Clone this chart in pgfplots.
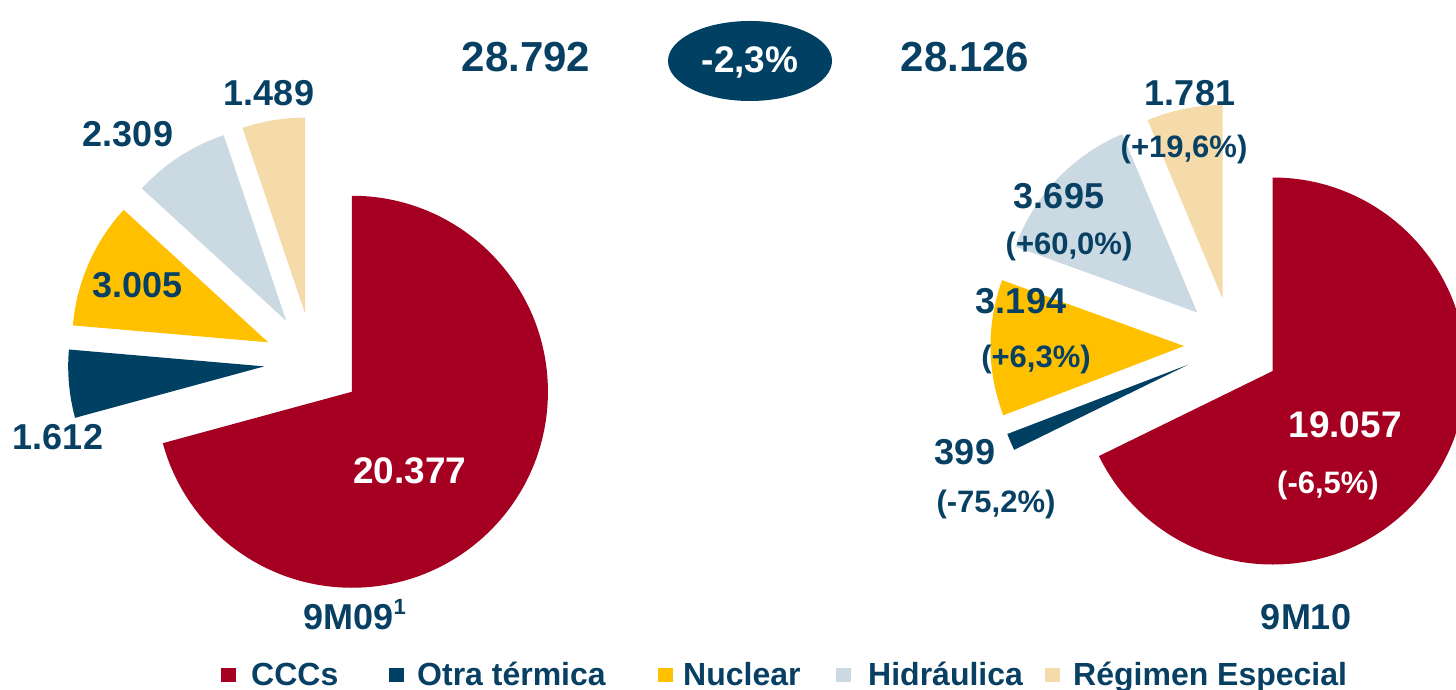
\documentclass[border=0pt]{standalone}
\usepackage{pgfplots}
\usepackage{pgfplotstable}
\pgfplotsset{compat=1.18}
\usepackage{fontspec}
\setmainfont{Liberation Sans}
\definecolor{cred}{RGB}{165,0,33}
\definecolor{cblue}{RGB}{0,64,98}
\definecolor{cyellow}{RGB}{255,192,0}
\definecolor{cgrey}{RGB}{203,217,226}
\definecolor{cbeige}{RGB}{245,219,170}
\definecolor{tblue}{RGB}{8,64,100}

% 9M09
\pgfplotstableread{
cat value col
CCCs 20377 cred
Otra 1612 cblue
Nuclear 3005 cyellow
Hidraulica 2309 cgrey
Regimen 1489 cbeige
}\tableA
% 9M10
\pgfplotstableread{
cat value col
CCCs 19057 cred
Otra 399 cblue
Nuclear 3194 cyellow
Hidraulica 3695 cgrey
Regimen 1781 cbeige
}\tableB

% #1 table, #2 cx, #3 cy, #4 radius, #5 explode distance
\newcommand{\drawpie}[5]{%
  \def\pietot{0}%
  \pgfplotsforeachungrouped \i in {0,...,4}{%
    \pgfplotstablegetelem{\i}{value}\of{#1}%
    \edef\pietot{\fpeval{\pietot+\pgfplotsretval}}%
  }%
  \def\pieangle{90}%
  \pgfplotsforeachungrouped \i in {0,...,4}{%
    \pgfplotstablegetelem{\i}{value}\of{#1}%
    \edef\piesweep{\fpeval{360*\pgfplotsretval/\pietot}}%
    \edef\pieend{\fpeval{\pieangle-\piesweep}}%
    \edef\piemid{\fpeval{\pieangle-\piesweep/2}}%
    \edef\piex{\fpeval{#2+#5*cosd(\piemid)}}%
    \edef\piey{\fpeval{#3+#5*sind(\piemid)}}%
    \pgfplotstablegetelem{\i}{col}\of{#1}%
    \edef\piecol{\pgfplotsretval}%
    \edef\piecmd{\noexpand\fill[\piecol] (axis cs:\piex,\piey) -- ++(\pieangle:#4pt) arc[start angle=\pieangle, end angle=\pieend, radius=#4pt] -- cycle;}%
    \piecmd
    \let\pieangle\pieend
  }%
}

\newcommand{\fs}[1]{\fontsize{#1}{#1}\selectfont\bfseries}

\begin{document}
\begin{tikzpicture}
\begin{axis}[name=ax, x=1pt, y=1pt, xmin=0, xmax=1456, ymin=0, ymax=690,
  hide axis, clip=true]
\addplot[draw=none] coordinates {(0,0) (1456,690)};
\drawpie{\tableA}{313}{328}{196}{49}
\drawpie{\tableB}{1232}{344.4}{193.5}{48}

% totals
\node[anchor=base, text=tblue, font=\fs{42}] at (axis cs:526,618) {28.792};
\node[anchor=base, text=tblue, font=\fs{42}] at (axis cs:965,618) {28.126};
\fill[cblue] (axis cs:750,629) ellipse[x radius=82pt, y radius=40pt];
\node[anchor=base, text=white, font=\fs{37}] at (axis cs:750,617.5) {-2,3\%};

% left labels
\node[anchor=base, text=tblue, font=\fs{36}] at (axis cs:269,584.5) {1.489};
\node[anchor=base, text=tblue, font=\fs{36}] at (axis cs:128,543) {2.309};
\node[anchor=base, text=tblue, font=\fs{36}] at (axis cs:137.5,392.5) {3.005};
\node[anchor=base, text=tblue, font=\fs{36}] at (axis cs:58,240) {1.612};
\node[anchor=base, text=white, font=\fs{37}] at (axis cs:410,206) {20.377};
\node[anchor=base west, text=tblue, font=\fs{36}] at (axis cs:300,60) {9M09\raisebox{0.42em}{\fontsize{22}{22}\selectfont 1}};

% right labels
\node[anchor=base, text=tblue, font=\fs{36}] at (axis cs:1190,584) {1.781};
\node[anchor=base, text=tblue, font=\fs{31}] at (axis cs:1184,532) {(+19,6\%)};
\node[anchor=base, text=tblue, font=\fs{36}] at (axis cs:1059,481) {3.695};
\node[anchor=base, text=tblue, font=\fs{31}] at (axis cs:1069,435) {(+60,0\%)};
\node[anchor=base, text=tblue, font=\fs{36}] at (axis cs:1021,376) {3.194};
\node[anchor=base, text=tblue, font=\fs{31}] at (axis cs:1036,322) {(+6,3\%)};
\node[anchor=base, text=tblue, font=\fs{36}] at (axis cs:965,225) {399};
\node[anchor=base, text=tblue, font=\fs{31}] at (axis cs:996,177) {(-75,2\%)};
\node[anchor=base, text=white, font=\fs{37}] at (axis cs:1345,252) {19.057};
\node[anchor=base, text=white, font=\fs{31}] at (axis cs:1328,196) {(-6,5\%)};
\node[anchor=base, text=tblue, font=\fs{36}] at (axis cs:1306,60) {9M10};

% legend
\fill[cred]    (axis cs:221,8) rectangle (axis cs:236,22);
\node[anchor=base west, inner sep=0pt, text=tblue, font=\fs{32}] at (axis cs:251,4) {CCCs};
\fill[cblue]   (axis cs:389,8) rectangle (axis cs:404,22);
\node[anchor=base west, inner sep=0pt, text=tblue, font=\fs{32}] at (axis cs:417,4) {Otra térmica};
\fill[cyellow] (axis cs:658,8) rectangle (axis cs:673,22);
\node[anchor=base west, inner sep=0pt, text=tblue, font=\fs{32}] at (axis cs:683,4) {Nuclear};
\fill[cgrey]   (axis cs:836,8) rectangle (axis cs:851,22);
\node[anchor=base west, inner sep=0pt, text=tblue, font=\fs{32}] at (axis cs:868,4) {Hidráulica};
\fill[cbeige]  (axis cs:1045,8) rectangle (axis cs:1060,22);
\node[anchor=base west, inner sep=0pt, text=tblue, font=\fs{32}] at (axis cs:1073,4) {Régimen Especial};
\end{axis}
\pgfresetboundingbox
\path (ax.south west) rectangle (ax.north east);
\end{tikzpicture}
\end{document}
